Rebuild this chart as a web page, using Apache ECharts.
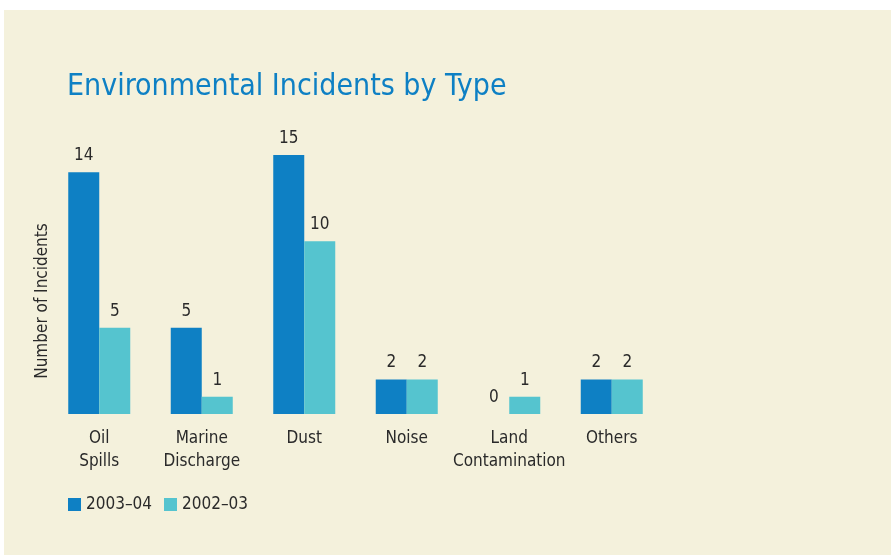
<!DOCTYPE html>
<html><head><meta charset="utf-8">
<script src="https://cdn.jsdelivr.net/npm/echarts@6/dist/echarts.min.js"></script>
<style>html,body{margin:0;padding:0;background:#fff}#c{width:891px;height:558px}</style>
</head><body><div id="c"></div>
<script>
const categories = ['Oil\nSpills', 'Marine\nDischarge', 'Dust', 'Noise', 'Land\nContamination', 'Others'];
const seriesNames = ['2003–04', '2002–03'];
const values2003 = [14, 5, 15, 2, 0, 2];
const values2002 = [5, 1, 10, 2, 1, 2];
const yAxisTitle = 'Number of Incidents';
const colors = ['#0e80c4', '#55c4cf'];
const font = '"Liberation Sans Narrow", "DejaVu Sans Condensed", "Roboto", sans-serif';

const chart = echarts.init(document.getElementById('c'));
const labelStyle = {show: true, position: 'top', distance: 8, color: '#2a2a2a', fontSize: 17, fontWeight: 500, fontFamily: font};
chart.setOption({
  backgroundColor: '#ffffff',
  graphic: [
    {type: 'rect', left: 4, top: 10, shape: {width: 887, height: 545}, style: {fill: '#f4f1dc'}, z: -10, silent: true},
    {type: 'text', x: 43, y: 301, rotation: Math.PI / 2,
      style: {text: yAxisTitle, fill: '#2a2a2a', fontSize: 17, fontWeight: 500, fontFamily: font, align: 'center', verticalAlign: 'middle'}}
  ],
  title: {text: 'Environmental Incidents by Type', left: 62, top: 67,
    textStyle: {color: '#0e80c4', fontSize: 30, fontWeight: 500, fontFamily: font}},
  legend: {left: 63, top: 491, itemWidth: 13, itemHeight: 13, itemGap: 12, icon: 'rect',
    textStyle: {color: '#2a2a2a', fontSize: 17, fontWeight: 500, fontFamily: font}, data: seriesNames},
  grid: {left: 48, right: 228, top: 155, bottom: 144},
  xAxis: {type: 'category', data: categories, axisLine: {show: false}, axisTick: {show: false},
    axisLabel: {color: '#2a2a2a', fontSize: 17, fontWeight: 500, fontFamily: font, margin: 13, lineHeight: 23, interval: 0}},
  yAxis: {type: 'value', min: 0, max: 15,
    axisLine: {show: false}, axisTick: {show: false}, axisLabel: {show: false}, splitLine: {show: false}},
  series: [
    {name: seriesNames[0], type: 'bar', data: values2003, barWidth: 31, barGap: '0%', itemStyle: {color: colors[0]}, label: labelStyle},
    {name: seriesNames[1], type: 'bar', data: values2002, barWidth: 31, barGap: '0%', itemStyle: {color: colors[1]}, label: labelStyle}
  ]
});
</script></body></html>
